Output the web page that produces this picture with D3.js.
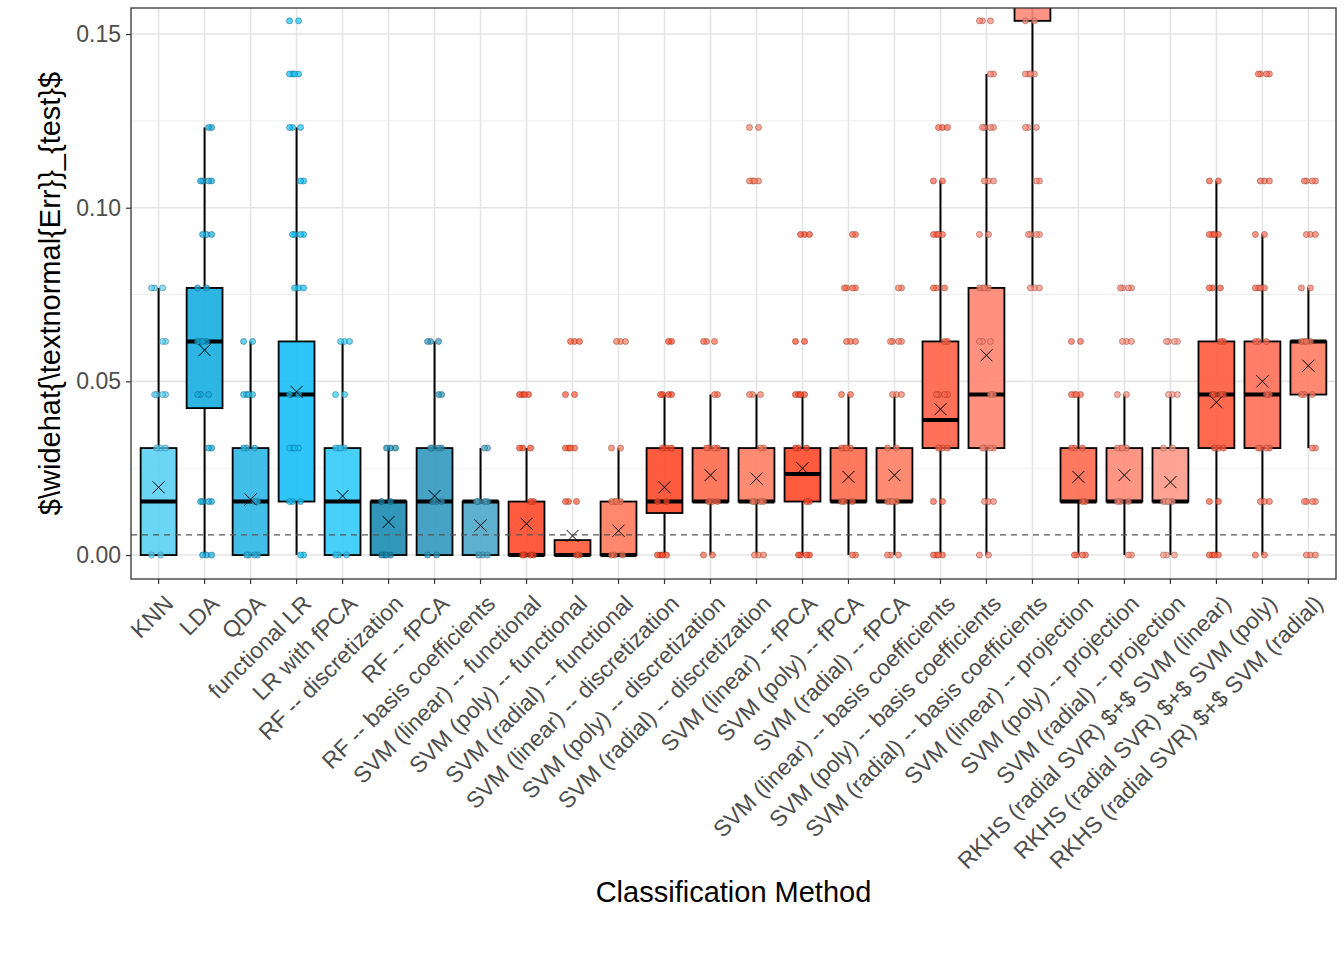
<!DOCTYPE html>
<html>
<head>
<meta charset="utf-8">
<script src="https://cdn.jsdelivr.net/npm/d3@7"></script>
<style>
  body { margin: 0; background: #fff; }
  text { font-family: "Liberation Sans", Arial, sans-serif; }
</style>
</head>
<body>
<svg id="chart" width="1344" height="960"></svg>
<script>
    'use strict';

    var methods = ['KNN', 'LDA', 'QDA', 'functional LR', 'LR with fPCA', 'RF -- discretization',
        'RF -- fPCA', 'RF -- basis coefficients', 'SVM (linear) -- functional', 'SVM (poly) -- functional',
        'SVM (radial) -- functional', 'SVM (linear) -- discretization', 'SVM (poly) -- discretization',
        'SVM (radial) -- discretization', 'SVM (linear) -- fPCA', 'SVM (poly) -- fPCA', 'SVM (radial) -- fPCA',
        'SVM (linear) -- basis coefficients', 'SVM (poly) -- basis coefficients', 'SVM (radial) -- basis coefficients',
        'SVM (linear) -- projection', 'SVM (poly) -- projection', 'SVM (radial) -- projection',
        'RKHS (radial SVR) $+$ SVM (linear)', 'RKHS (radial SVR) $+$ SVM (poly)', 'RKHS (radial SVR) $+$ SVM (radial)'];

    var colors = ['#5BD0F5', '#16ADE0', '#2CB8E6', '#17C0F7', '#33CBFA', '#1A8CB4', '#3399C0', '#4BA8C9',
        '#FF4A2A', '#FF5A38', '#FF7A5C', '#FF4A2A', '#FF6A4C', '#FF7F63', '#FF4A2A', '#FF6A4C', '#FF7F63',
        '#FF6347', '#FF8570', '#FF8A78', '#FF6A50', '#FF8A75', '#FF9A88', '#FF5A3C', '#FF6E55', '#FF7B62'];

    var q1 = [0, 0.0423, 0, 0.0154, 0, 0, 0, 0, 0, 0, 0, 0.0121, 0.0154, 0.0154, 0.0154, 0.0154, 0.0154,
        0.0308, 0.0308, 0.1538, 0.0154, 0.0154, 0.0154, 0.0308, 0.0308, 0.0462];
    var medians = [0.0154, 0.0615, 0.0154, 0.0462, 0.0154, 0.0154, 0.0154, 0.0154, 0, 0, 0, 0.0154, 0.0154,
        0.0154, 0.0233, 0.0154, 0.0154, 0.0389, 0.0462, 0.17, 0.0154, 0.0154, 0.0154, 0.0462, 0.0462, 0.0615];
    var q3 = [0.0308, 0.0769, 0.0308, 0.0615, 0.0308, 0.0154, 0.0308, 0.0154, 0.0154, 0.0043, 0.0154, 0.0308,
        0.0308, 0.0308, 0.0308, 0.0308, 0.0308, 0.0615, 0.0769, 0.18, 0.0308, 0.0308, 0.0308, 0.0615, 0.0615, 0.0615];
    var whiskLo = [0, 0, 0, 0, 0, 0, 0, 0, 0, 0, 0, 0, 0, 0, 0, 0, 0, 0, 0, 0.0769, 0, 0, 0, 0, 0, 0.0308];
    var whiskHi = [0.0769, 0.1231, 0.0615, 0.1231, 0.0615, 0.0308, 0.0615, 0.0308, 0.0308, 0.0043, 0.0308,
        0.0462, 0.0462, 0.0462, 0.0462, 0.0462, 0.0462, 0.1077, 0.1385, 0.1538, 0.0462, 0.0462, 0.0462,
        0.1077, 0.0923, 0.0769];
    var means = [0.0195, 0.059, 0.016, 0.047, 0.017, 0.0095, 0.017, 0.0085, 0.009, 0.0055, 0.007, 0.0195,
        0.023, 0.022, 0.025, 0.0225, 0.023, 0.042, 0.0575, null, 0.0225, 0.023, 0.021, 0.044, 0.050, 0.0545];
    // distinct error values (multiples of 1/65) where observations sit
    var pointValues = [
        [0, 0.0308, 0.0462, 0.0615, 0.0769],
        [0, 0.0154, 0.0308, 0.0462, 0.0615, 0.0769, 0.0923, 0.1077, 0.1231],
        [0, 0.0154, 0.0308, 0.0462, 0.0615],
        [0, 0.0154, 0.0308, 0.0462, 0.0769, 0.0923, 0.1077, 0.1231, 0.1385, 0.1538],
        [0, 0.0308, 0.0462, 0.0615],
        [0, 0.0154, 0.0308],
        [0, 0.0154, 0.0308, 0.0462, 0.0615],
        [0, 0.0154, 0.0308],
        [0, 0.0154, 0.0308, 0.0462],
        [0, 0.0154, 0.0308, 0.0462, 0.0615],
        [0, 0.0154, 0.0308, 0.0615],
        [0, 0.0154, 0.0308, 0.0462, 0.0615],
        [0, 0.0154, 0.0308, 0.0462, 0.0615],
        [0, 0.0154, 0.0308, 0.0462, 0.1077, 0.1231],
        [0, 0.0154, 0.0308, 0.0462, 0.0615, 0.0923],
        [0, 0.0154, 0.0308, 0.0462, 0.0615, 0.0769, 0.0923],
        [0, 0.0154, 0.0308, 0.0462, 0.0615, 0.0769],
        [0, 0.0154, 0.0308, 0.0462, 0.0615, 0.0769, 0.0923, 0.1077, 0.1231],
        [0, 0.0154, 0.0308, 0.0462, 0.0615, 0.0769, 0.0923, 0.1077, 0.1231, 0.1385, 0.1538],
        [0.0769, 0.0923, 0.1077, 0.1231, 0.1385, 0.1538],
        [0, 0.0154, 0.0308, 0.0462, 0.0615],
        [0, 0.0154, 0.0308, 0.0462, 0.0615, 0.0769],
        [0, 0.0154, 0.0308, 0.0462, 0.0615],
        [0, 0.0154, 0.0308, 0.0462, 0.0615, 0.0769, 0.0923, 0.1077],
        [0, 0.0154, 0.0308, 0.0462, 0.0615, 0.0769, 0.0923, 0.1077, 0.1385],
        [0, 0.0154, 0.0308, 0.0462, 0.0615, 0.0769, 0.0923, 0.1077]
    ];
    var yTicks = [0, 0.05, 0.10, 0.15];
    var yMinor = [0.025, 0.075, 0.125];
    var reference = 0.0058;

(function() {
    var svg = d3.select('#chart'),
        left = 131, right = 1336, top = 8, bottom = 579;

    var x = d3.scaleBand().domain(methods).range([left, right]).paddingInner(0).paddingOuter(0.1);
    var y = d3.scaleLinear().domain([-0.0069, 0.1575]).range([bottom, top]);
    var bw = x.bandwidth() * 0.78;
    var cx = function(i) { return x(methods[i]) + x.bandwidth() / 2; };

    svg.append('clipPath').attr('id', 'clip').append('rect')
        .attr('x', left).attr('y', top).attr('width', right - left).attr('height', bottom - top);

    var grid = svg.append('g');
    grid.selectAll('.minor').data(yMinor).enter().append('line')
        .attr('x1', left).attr('x2', right).attr('y1', y).attr('y2', y)
        .attr('stroke', '#EEEEEE').attr('stroke-width', 1);
    grid.selectAll('.major').data(yTicks).enter().append('line')
        .attr('x1', left).attr('x2', right).attr('y1', y).attr('y2', y)
        .attr('stroke', '#E5E5E5').attr('stroke-width', 1.6);
    grid.selectAll('.vert').data(methods).enter().append('line')
        .attr('x1', function(d, i) { return cx(i); }).attr('x2', function(d, i) { return cx(i); })
        .attr('y1', top).attr('y2', bottom)
        .attr('stroke', '#E5E5E5').attr('stroke-width', 1.6);

    var plot = svg.append('g').attr('clip-path', 'url(#clip)');
    var jitter = [-7, 2, -2, 7, 4, -4];

    methods.forEach(function(m, i) {
        var c = cx(i), col = colors[i];
        plot.append('line').attr('x1', c).attr('x2', c)
            .attr('y1', y(whiskLo[i])).attr('y2', y(q1[i]))
            .attr('stroke', '#000').attr('stroke-width', 2);
        plot.append('line').attr('x1', c).attr('x2', c)
            .attr('y1', y(q3[i])).attr('y2', y(whiskHi[i]))
            .attr('stroke', '#000').attr('stroke-width', 2);
        plot.append('rect').attr('x', c - bw / 2).attr('width', bw)
            .attr('y', y(q3[i])).attr('height', Math.max(0, y(q1[i]) - y(q3[i])))
            .attr('fill', col).attr('fill-opacity', 0.9).attr('stroke', '#000').attr('stroke-width', 1.8);
        plot.append('line').attr('x1', c - bw / 2).attr('x2', c + bw / 2)
            .attr('y1', y(medians[i])).attr('y2', y(medians[i]))
            .attr('stroke', '#000').attr('stroke-width', 4);

        var pts = [];
        pointValues[i].forEach(function(v, k) {
            var n = (k + i) % 3 + 2;
            for (var j = 0; j < n; j++) pts.push({ v: v, dx: jitter[(j + k + i) % jitter.length] });
        });
        plot.selectAll(null).data(pts).enter().append('circle')
            .attr('cx', function(d) { return c + d.dx; })
            .attr('cy', function(d) { return y(d.v); })
            .attr('r', 3)
            .attr('fill', col).attr('fill-opacity', 0.7)
            .attr('stroke', d3.color(col).darker(1.5)).attr('stroke-opacity', 0.7).attr('stroke-width', 0.8);

        if (means[i] != null) {
            var my = y(means[i]), s = 6;
            plot.append('path')
                .attr('d', 'M' + (c - s) + ',' + (my - s) + 'L' + (c + s) + ',' + (my + s) +
                    'M' + (c - s) + ',' + (my + s) + 'L' + (c + s) + ',' + (my - s))
                .attr('stroke', '#000').attr('stroke-width', 1);
        }
    });

    plot.append('line').attr('x1', left).attr('x2', right)
        .attr('y1', y(reference)).attr('y2', y(reference))
        .attr('stroke', '#555').attr('stroke-width', 1.3).attr('stroke-dasharray', '6,5');

    svg.append('rect').attr('x', left).attr('y', top).attr('width', right - left).attr('height', bottom - top)
        .attr('fill', 'none').attr('stroke', '#333').attr('stroke-width', 1.3);

    var yAxis = svg.append('g').attr('transform', 'translate(' + left + ',0)')
        .call(d3.axisLeft(y).tickValues(yTicks).tickFormat(d3.format('.2f')).tickSize(5).tickPadding(5));
    var xAxis = svg.append('g').attr('transform', 'translate(0,' + bottom + ')')
        .call(d3.axisBottom(x).tickSize(5).tickPadding(4));
    [yAxis, xAxis].forEach(function(a) {
        a.select('.domain').remove();
        a.selectAll('.tick line').attr('stroke', '#333').attr('stroke-width', 1.2);
        a.selectAll('.tick text').attr('fill', '#4D4D4D').style('font-size', '23px');
    });
    xAxis.selectAll('.tick text')
        .attr('text-anchor', 'end').attr('dy', '0.35em')
        .attr('transform', 'translate(4,14) rotate(-45)');

    svg.append('text').attr('x', (left + right) / 2).attr('y', 902)
        .attr('text-anchor', 'middle').style('font-size', '29px').attr('fill', '#000')
        .text('Classification Method');
    svg.append('text').attr('transform', 'translate(60,' + ((top + bottom) / 2) + ') rotate(-90)')
        .attr('text-anchor', 'middle').style('font-size', '29px').attr('fill', '#000')
        .text('$\\widehat{\\textnormal{Err}}_{test}$');
})();
</script>
</body>
</html>
